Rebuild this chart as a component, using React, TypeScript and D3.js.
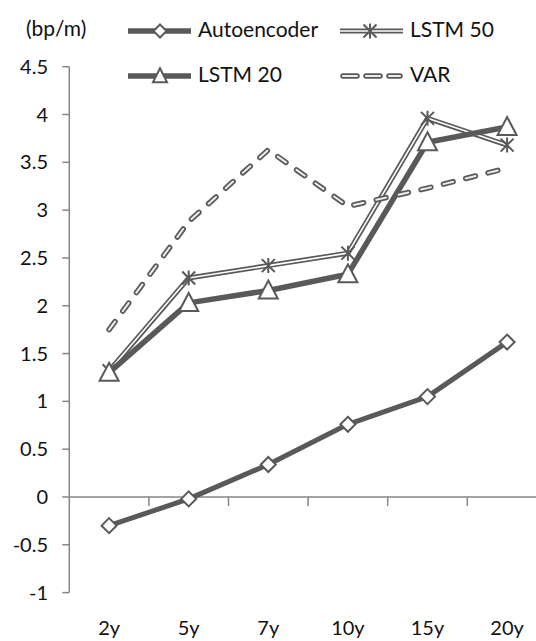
import React from "react";
import * as d3 from "d3";

const categories = ["2y", "5y", "7y", "10y", "15y", "20y"];
const autoencoder = [-0.3, -0.02, 0.34, 0.76, 1.05, 1.62];
const lstm50 = [1.32, 2.29, 2.42, 2.55, 3.96, 3.68];
const lstm20 = [1.3, 2.03, 2.16, 2.33, 3.71, 3.87];
const varSeries = [1.75, 2.88, 3.63, 3.04, 3.23, 3.44];
const yTicks = [-1, -0.5, 0, 0.5, 1, 1.5, 2, 2.5, 3, 3.5, 4, 4.5];

const W = 536;
const H = 641;
const GRAY = "#595959";
const AXIS = "#868686";
const INNER = "#ececec";
const FONT = "Lato, 'Open Sans', sans-serif";
const FS = 21;

const x = d3.scaleBand<string>().domain(categories).range([69.3, 69.3 + 6 * 79.6]);
const y = d3.scaleLinear().domain([-1, 4.5]).range([592.6, 66.7]);
const cx = (c: string) => (x(c) as number) + x.bandwidth() / 2;

const line = d3
  .line<number>()
  .x((_, i) => cx(categories[i]))
  .y((d) => y(d));

function Diamond({ x0, y0, s = 7.5 }: { x0: number; y0: number; s?: number }) {
  return (
    <path
      d={`M${x0},${y0 - s}L${x0 + s},${y0}L${x0},${y0 + s}L${x0 - s},${y0}Z`}
      fill="#fff"
      stroke={GRAY}
      strokeWidth={2}
    />
  );
}
function Triangle({ x0, y0, w = 9.5, h = 18 }: { x0: number; y0: number; w?: number; h?: number }) {
  return (
    <path
      d={`M${x0},${y0 - h * 0.55}L${x0 + w},${y0 + h * 0.45}L${x0 - w},${y0 + h * 0.45}Z`}
      fill="#fff"
      stroke={GRAY}
      strokeWidth={2}
    />
  );
}
function Star({ x0, y0, s = 6.5 }: { x0: number; y0: number; s?: number }) {
  return (
    <path
      d={`M${x0 - s},${y0 - s}L${x0 + s},${y0 + s}M${x0 + s},${y0 - s}L${x0 - s},${y0 + s}M${x0},${y0 - s - 1}L${x0},${y0 + s + 1}`}
      fill="none"
      stroke={GRAY}
      strokeWidth={2}
    />
  );
}

export default function App() {
  const y0 = y(0);
  const boundaries = categories
    .map((c) => x(c) as number)
    .concat([(x(categories[5]) as number) + x.bandwidth()]);
  const dash = "10,13";
  const r1 = 31;
  const r2 = 76;
  return (
    <svg
      width={W}
      height={H}
      style={{ position: "absolute", left: 0, top: 0, background: "#fff" }}
      fontFamily={FONT}
    >
      {/* axes */}
      <line x1={x.range()[0]} x2={x.range()[0]} y1={y(4.5)} y2={y(-1)} stroke={AXIS} strokeWidth={1.5} />
      {yTicks.map((t) => (
        <g key={t}>
          <line x1={x.range()[0] - 7} x2={x.range()[0]} y1={y(t)} y2={y(t)} stroke={AXIS} strokeWidth={1.5} />
          <text x={48} y={y(t)} dy="0.35em" textAnchor="end" fontSize={20} fill="#111">
            {String(t)}
          </text>
        </g>
      ))}
      <line x1={x.range()[0]} x2={W} y1={y0} y2={y0} stroke={AXIS} strokeWidth={1.5} />
      {boundaries.slice(1).map((b, i) => (
        <line key={i} x1={b} x2={b} y1={y0} y2={y0 + 9} stroke={AXIS} strokeWidth={1.5} />
      ))}
      {categories.map((c) => (
        <text key={c} x={cx(c)} y={628} dy="0.35em" textAnchor="middle" fontSize={20} fill="#111">
          {c}
        </text>
      ))}

      {/* Autoencoder */}
      <path d={line(autoencoder) as string} fill="none" stroke={GRAY} strokeWidth={5} strokeLinejoin="round" />
      {autoencoder.map((v, i) => (
        <Diamond key={i} x0={cx(categories[i])} y0={y(v)} />
      ))}

      {/* LSTM 50 */}
      <path d={line(lstm50) as string} fill="none" stroke={GRAY} strokeWidth={5} strokeLinejoin="round" />
      <path d={line(lstm50) as string} fill="none" stroke="#fff" strokeWidth={1.6} strokeLinejoin="round" />
      {lstm50.map((v, i) => (
        <Star key={i} x0={cx(categories[i])} y0={y(v)} />
      ))}

      {/* LSTM 20 */}
      <path d={line(lstm20) as string} fill="none" stroke={GRAY} strokeWidth={5.5} strokeLinejoin="round" />
      {lstm20.map((v, i) => (
        <Triangle key={i} x0={cx(categories[i])} y0={y(v)} />
      ))}

      {/* VAR */}
      <path
        d={line(varSeries) as string}
        fill="none"
        stroke={GRAY}
        strokeWidth={5.5}
        strokeDasharray={dash}
        strokeLinecap="round"
      />
      <path
        d={line(varSeries) as string}
        fill="none"
        stroke={INNER}
        strokeWidth={2}
        strokeDasharray={dash}
        strokeLinecap="round"
      />

      {/* legend */}
      <text x={26} y={29} dy="0.35em" fontSize={FS} fill="#111">
        (bp/m)
      </text>
      <g>
        <line x1={128} x2={191} y1={r1} y2={r1} stroke={GRAY} strokeWidth={5.5} />
        <Diamond x0={160} y0={r1} s={6.5} />
        <text x={198} y={r1 - 1} dy="0.35em" fontSize={FS} fill="#111">
          Autoencoder
        </text>
      </g>
      <g>
        <line x1={340} x2={403} y1={r1} y2={r1} stroke={GRAY} strokeWidth={5} />
        <line x1={340} x2={403} y1={r1} y2={r1} stroke="#fff" strokeWidth={1.6} />
        <Star x0={370} y0={r1} />
        <text x={410} y={r1 - 1} dy="0.35em" fontSize={FS} fill="#111">
          LSTM 50
        </text>
      </g>
      <g>
        <line x1={128} x2={191} y1={r2} y2={r2} stroke={GRAY} strokeWidth={5.5} />
        <Triangle x0={160} y0={r2} w={7} h={14} />
        <text x={198} y={r2 - 1} dy="0.35em" fontSize={FS} fill="#111">
          LSTM 20
        </text>
      </g>
      <g>
        <line x1={343} x2={400} y1={r2} y2={r2} stroke={GRAY} strokeWidth={5.5} strokeDasharray="14,9" strokeLinecap="round" />
        <line x1={343} x2={400} y1={r2} y2={r2} stroke={INNER} strokeWidth={2} strokeDasharray="14,9" strokeLinecap="round" />
        <text x={410} y={r2 - 1} dy="0.35em" fontSize={FS} fill="#111">
          VAR
        </text>
      </g>
    </svg>
  );
}
